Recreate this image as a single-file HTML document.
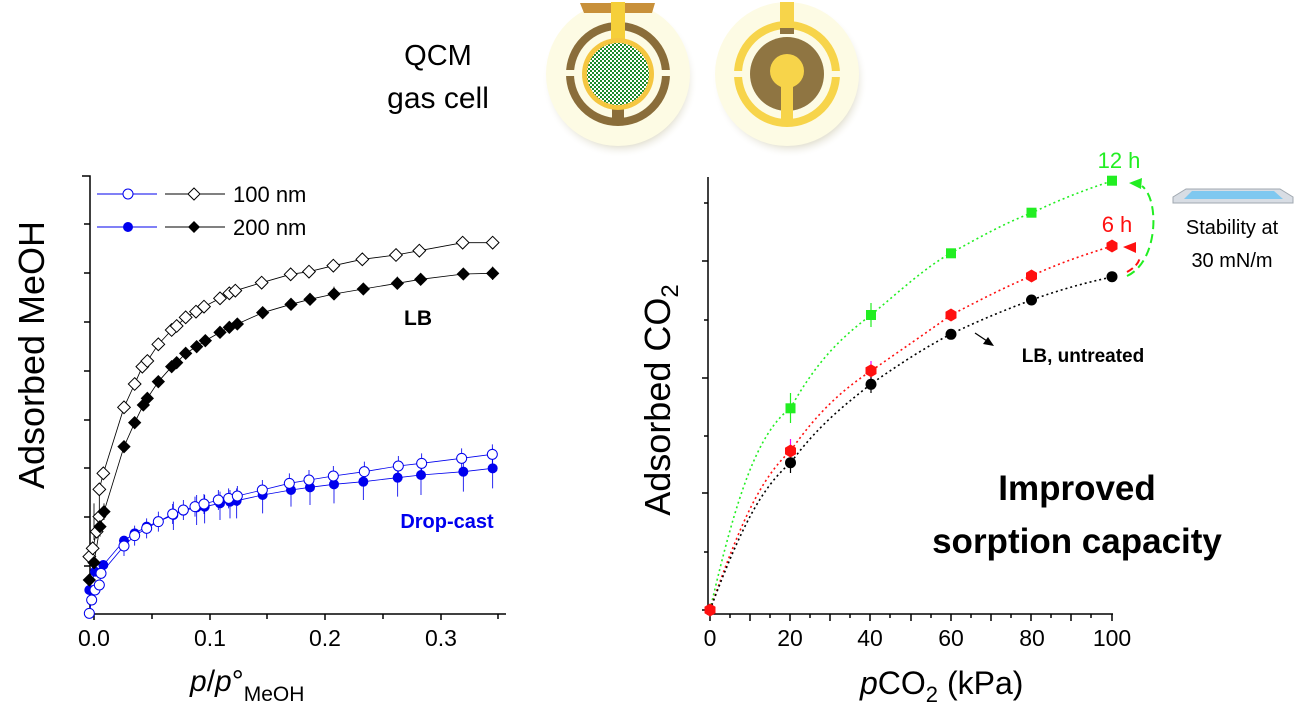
<!DOCTYPE html>
<html><head><meta charset="utf-8"><style>
html,body{margin:0;padding:0;background:#fff;}
svg{display:block;font-family:"Liberation Sans",sans-serif;}
</style></head><body>
<svg width="1298" height="716" viewBox="0 0 1298 716" xmlns="http://www.w3.org/2000/svg">
<defs>
<radialGradient id="shd" cx="50%" cy="50%" r="50%"><stop offset="0.85" stop-color="#e8e6da"/><stop offset="1" stop-color="#fff" stop-opacity="0"/></radialGradient>
<pattern id="chk" width="4" height="4" patternUnits="userSpaceOnUse"><rect width="4" height="4" fill="#fff"/><rect width="2" height="2" fill="#1a8a2a"/><rect x="2" y="2" width="2" height="2" fill="#1a8a2a"/></pattern>
<path id="dO" d="M0,-19 L19,0 L0,19 L-19,0Z" fill="#fff" stroke="#000" stroke-width="3"/>
<path id="dF" d="M0,-20 L20,0 L0,20 L-20,0Z" fill="#000"/>
<circle id="cO" r="15" fill="#fff" stroke="#0000ee" stroke-width="3"/>
<circle id="cF" r="15" fill="#0000ee"/>
<rect id="sq" x="-5" y="-5" width="10" height="10" fill="#22ee22"/>
<path id="hx" d="M0,-6.5 L5.5,-3.3 L5.5,3.3 L0,6.5 L-5.5,3.3 L-5.5,-3.3Z" fill="#ff1010"/>
<circle id="bk" r="5.5" fill="#000"/>
</defs>

<!-- QCM -->
<text x="438" y="65" font-size="29" text-anchor="middle">QCM</text>
<text x="438" y="108" font-size="30" text-anchor="middle">gas cell</text>
<circle cx="620" cy="80" r="78" fill="url(#shd)"/>
<circle cx="790" cy="80" r="78" fill="url(#shd)"/>
<circle cx="618" cy="74" r="72" fill="#fdfbe4"/>
<circle cx="787" cy="74" r="72" fill="#fdfbe4"/>
<path d="M580,3 L655,3 L652,13 L584,13Z" fill="#c8903a"/>
<circle cx="618" cy="74" r="48" fill="none" stroke="#8a6d3a" stroke-width="8"/>
<rect x="560" y="70" width="120" height="6" fill="#fdfbe4"/>
<rect x="611" y="2" width="14" height="38" fill="#f5cf3a"/>
<rect x="612" y="108" width="12" height="14" fill="#8a6d3a"/>
<circle cx="618" cy="74" r="36" fill="#f5c640"/>
<circle cx="618" cy="74" r="31" fill="url(#chk)"/>
<circle cx="787" cy="74" r="49" fill="none" stroke="#f7d44a" stroke-width="8"/>
<rect x="730" y="71" width="115" height="6" fill="#fdfbe4"/>
<rect x="780" y="2" width="14" height="28" fill="#f7d44a"/>
<circle cx="787" cy="74" r="37" fill="#8f7542"/>
<rect x="780" y="28" width="14" height="6" fill="#8f7542"/>
<circle cx="787" cy="71" r="17" fill="#f7d44a"/>
<rect x="781" y="74" width="12" height="50" fill="#f7d44a"/>

<!-- LEFT CHART -->
<g stroke="#000" stroke-width="1.5" fill="none">
<path d="M82,176 L90,176 L90,614 L506,614"/>
<path d="M84,224H90M84,273H90M84,322H90M84,371H90M84,420H90M84,468H90M84,517H90M84,566H90"/>
<path d="M94,614V620M152,614V619M210,614V620M267,614V619M325,614V620M383,614V619M441,614V620M498,614V619"/>
</g>
<g font-size="23" text-anchor="middle">
<text x="94" y="646">0.0</text><text x="210" y="646">0.1</text><text x="325" y="646">0.2</text><text x="441" y="646">0.3</text>
</g>
<text transform="translate(44,355) rotate(-90)" font-size="36" text-anchor="middle">Adsorbed MeOH</text>
<text x="190" y="691" font-size="30"><tspan font-style="italic">p</tspan>/<tspan font-style="italic">p</tspan>°<tspan font-size="21" dy="10">MeOH</tspan></text>

<g transform="translate(0,170) scale(0.33333)">
<g stroke="#0000ee" stroke-width="2.5">
<path d="M372,1098V1158M404,1067V1127M440,1045V1105M475,1025V1085M518,1002V1062M550,990V1050M585,980V1040M612,972V1032M655,960V1020M686,955V1015M712,948V1008M787,930V990M868,910V970M927,900V960M1000,888V948M1093,875V935M1195,858V918M1265,850V910M1385,835V895M1477,823V883"/>
<path d="M788,945V1030M873,925V1010M930,915V1005M1002,905V1000M1090,895V990M1193,880V980M1263,875V975M1390,860V965M1478,835V955M660,965V1050M690,960V1045M710,955V1045M590,975V1065M614,975V1060M520,995V1080"/>
</g>
<g stroke="#000" stroke-width="2.5"><path d="M1192,320V358M1262,310V345M1478,290V330M873,385V420M1002,350V390M312,1000V1050M300,1050V1100M282,1000V1110"/></g>
<polyline fill="none" stroke="#000" stroke-width="2.5" points="268,1160 278,1135 290,1085 298,1040 298,958 310,910 372,712 404,642 427,590 442,573 475,523 515,480 530,468 557,442 588,425 612,410 660,385 688,370 706,362 785,338 872,313 927,305 1000,287 1087,268 1188,255 1258,242 1388,218 1478,218"/>
<polyline fill="none" stroke="#000" stroke-width="2.5" points="268,1230 282,1178 300,1070 312,1025 372,830 404,758 430,705 442,685 475,635 515,590 530,578 557,550 590,530 616,512 660,487 688,472 712,462 788,428 873,403 930,388 1002,372 1090,357 1192,340 1262,328 1390,312 1478,310"/>
<polyline fill="none" stroke="#0000ee" stroke-width="2.5" points="268,1330 275,1290 285,1260 298,1245 303,1210 372,1128 404,1097 440,1075 475,1055 518,1032 550,1020 585,1010 612,1002 655,990 686,985 712,978 787,960 868,940 927,930 1000,918 1093,905 1195,888 1265,880 1385,865 1477,853"/>
<polyline fill="none" stroke="#0000ee" stroke-width="2.5" points="268,1260 285,1205 310,1185 372,1112 404,1090 440,1070 520,1035 550,1022 590,1012 614,1010 660,1000 690,995 710,992 788,975 873,960 930,952 1002,943 1090,935 1193,923 1263,915 1390,905 1478,895"/>
<g>
<use href="#cF" x="268" y="1260"/><use href="#cF" x="285" y="1205"/><use href="#cF" x="310" y="1185"/><use href="#cF" x="372" y="1112"/><use href="#cF" x="404" y="1090"/><use href="#cF" x="440" y="1070"/><use href="#cF" x="520" y="1035"/><use href="#cF" x="550" y="1022"/><use href="#cF" x="590" y="1012"/><use href="#cF" x="614" y="1010"/><use href="#cF" x="660" y="1000"/><use href="#cF" x="690" y="995"/><use href="#cF" x="710" y="992"/><use href="#cF" x="788" y="975"/><use href="#cF" x="873" y="960"/><use href="#cF" x="930" y="952"/><use href="#cF" x="1002" y="943"/><use href="#cF" x="1090" y="935"/><use href="#cF" x="1193" y="923"/><use href="#cF" x="1263" y="915"/><use href="#cF" x="1390" y="905"/><use href="#cF" x="1478" y="895"/>
<use href="#cO" x="268" y="1330"/><use href="#cO" x="275" y="1290"/><use href="#cO" x="285" y="1260"/><use href="#cO" x="298" y="1245"/><use href="#cO" x="303" y="1210"/><use href="#cO" x="372" y="1128"/><use href="#cO" x="404" y="1097"/><use href="#cO" x="440" y="1075"/><use href="#cO" x="475" y="1055"/><use href="#cO" x="518" y="1032"/><use href="#cO" x="550" y="1020"/><use href="#cO" x="585" y="1010"/><use href="#cO" x="612" y="1002"/><use href="#cO" x="655" y="990"/><use href="#cO" x="686" y="985"/><use href="#cO" x="712" y="978"/><use href="#cO" x="787" y="960"/><use href="#cO" x="868" y="940"/><use href="#cO" x="927" y="930"/><use href="#cO" x="1000" y="918"/><use href="#cO" x="1093" y="905"/><use href="#cO" x="1195" y="888"/><use href="#cO" x="1265" y="880"/><use href="#cO" x="1385" y="865"/><use href="#cO" x="1477" y="853"/>
<use href="#dO" x="268" y="1160"/><use href="#dO" x="278" y="1135"/><use href="#dO" x="290" y="1085"/><use href="#dO" x="298" y="1040"/><use href="#dO" x="298" y="958"/><use href="#dO" x="310" y="910"/><use href="#dO" x="372" y="712"/><use href="#dO" x="404" y="642"/><use href="#dO" x="427" y="590"/><use href="#dO" x="442" y="573"/><use href="#dO" x="475" y="523"/><use href="#dO" x="515" y="480"/><use href="#dO" x="530" y="468"/><use href="#dO" x="557" y="442"/><use href="#dO" x="588" y="425"/><use href="#dO" x="612" y="410"/><use href="#dO" x="660" y="385"/><use href="#dO" x="688" y="370"/><use href="#dO" x="706" y="362"/><use href="#dO" x="785" y="338"/><use href="#dO" x="872" y="313"/><use href="#dO" x="927" y="305"/><use href="#dO" x="1000" y="287"/><use href="#dO" x="1087" y="268"/><use href="#dO" x="1188" y="255"/><use href="#dO" x="1258" y="242"/><use href="#dO" x="1388" y="218"/><use href="#dO" x="1478" y="218"/>
<use href="#dF" x="268" y="1230"/><use href="#dF" x="282" y="1178"/><use href="#dF" x="300" y="1070"/><use href="#dF" x="312" y="1025"/><use href="#dF" x="372" y="830"/><use href="#dF" x="404" y="758"/><use href="#dF" x="430" y="705"/><use href="#dF" x="442" y="685"/><use href="#dF" x="475" y="635"/><use href="#dF" x="515" y="590"/><use href="#dF" x="530" y="578"/><use href="#dF" x="557" y="550"/><use href="#dF" x="590" y="530"/><use href="#dF" x="616" y="512"/><use href="#dF" x="660" y="487"/><use href="#dF" x="688" y="472"/><use href="#dF" x="712" y="462"/><use href="#dF" x="788" y="428"/><use href="#dF" x="873" y="403"/><use href="#dF" x="930" y="388"/><use href="#dF" x="1002" y="372"/><use href="#dF" x="1090" y="357"/><use href="#dF" x="1192" y="340"/><use href="#dF" x="1262" y="328"/><use href="#dF" x="1390" y="312"/><use href="#dF" x="1478" y="310"/>
</g>
</g>
<!-- legend -->
<g stroke-width="1">
<path d="M97,194H157M97,227H157" stroke="#0000ee"/>
<path d="M165,194H225M165,227H225" stroke="#000"/>
</g>
<circle cx="128" cy="194" r="5" fill="#fff" stroke="#0000ee"/>
<circle cx="128" cy="227" r="5" fill="#0000ee"/>
<path d="M194,188L200,194L194,200L188,194Z" fill="#fff" stroke="#000"/>
<path d="M194,221L200,227L194,233L188,227Z" fill="#000"/>
<text x="233" y="202" font-size="22">100 nm</text>
<text x="233" y="235" font-size="22">200 nm</text>
<text x="418" y="325" font-size="21" font-weight="bold" text-anchor="middle">LB</text>
<text x="447" y="528" font-size="20" font-weight="bold" fill="#0000ee" text-anchor="middle">Drop-cast</text>

<!-- RIGHT CHART -->
<g stroke="#000" stroke-width="1.5" fill="none">
<path d="M708,177V614H1113"/>
<path d="M704,203H708M702,261H708M704,320H708M702,378H708M704,436H708M702,493H708M704,552H708M702,610H708"/>
<path d="M710,614V621M730,614V618M750,614V621M770,614V618M790,614V621M810,614V618M830,614V621M850,614V618M870,614V621M890,614V618M911,614V621M931,614V618M951,614V621M971,614V618M991,614V621M1011,614V618M1031,614V621M1051,614V618M1071,614V621M1091,614V618M1112,614V621"/>
</g>
<g font-size="23" text-anchor="middle">
<text x="710" y="646">0</text><text x="790" y="646">20</text><text x="870" y="646">40</text><text x="951" y="646">60</text><text x="1032" y="646">80</text><text x="1112" y="646">100</text>
</g>
<text transform="translate(670,400) rotate(-90)" font-size="36" text-anchor="middle">Adsorbed CO<tspan font-size="24" dy="8">2</tspan></text>
<text x="860" y="694" font-size="32"><tspan font-style="italic">p</tspan>CO<tspan font-size="22" dy="8">2</tspan><tspan dy="-8"> (kPa)</tspan></text>

<path d="M790.5,393V423M871,303V327" stroke="#22ee22" stroke-width="1.2"/>
<path d="M790.5,439V460M871,361V381" stroke="#ff00ff" stroke-width="1.2"/>
<path d="M790.5,453V473M871,377V393" stroke="#000" stroke-width="1.2"/>
<g fill="none" stroke-width="1.6" stroke-dasharray="2,3">
<path d="M710,610 C737,493 758,433 790.5,408 C816,363 838,340 871,315 C901,290 926,267 951,253 C980,237 1005,223 1031.5,213 C1059,200 1084,190 1112,181" stroke="#22ee22"/>
<path d="M710,610 C741,520 762,477 790.5,451 C817,413 842,390 871,371 C901,350 926,333 951,315 C980,300 1005,287 1031.5,276 C1059,263 1084,255 1112,246" stroke="#ff1010"/>
<path d="M710,610 C741,527 762,487 790.5,463 C817,427 842,407 871,384 C901,363 926,347 951,334 C980,320 1005,310 1031.5,300 C1059,290 1084,283 1112,277" stroke="#000"/>
</g>
<path d="M1127,276 C1158,262 1160,200 1142,186" fill="none" stroke="#22ee22" stroke-width="2" stroke-dasharray="9,5"/>
<path d="M1129,183 L1142,178 L1141,189Z" fill="#22ee22"/>
<path d="M1127,272 C1136,267 1139,262 1140,257" fill="none" stroke="#ff1010" stroke-width="2" stroke-dasharray="7,4"/>
<path d="M1123,247 L1136,242 L1136,253Z" fill="#ff1010"/>
<path d="M975,333 L990,343" stroke="#000" stroke-width="1.2"/><path d="M994,346 L983,344 L988,337Z" fill="#000"/>
<use href="#bk" x="710" y="610"/><use href="#bk" x="790.5" y="462.7"/><use href="#bk" x="871" y="384.3"/><use href="#bk" x="951" y="334.3"/><use href="#bk" x="1031.5" y="300"/><use href="#bk" x="1112" y="276.7"/>
<use href="#hx" x="790.5" y="451"/><use href="#hx" x="871" y="370.7"/><use href="#hx" x="951" y="315"/><use href="#hx" x="1031.5" y="276"/><use href="#hx" x="1112" y="246"/>
<use href="#sq" x="790.5" y="408.3"/><use href="#sq" x="871" y="315"/><use href="#sq" x="951" y="253.3"/><use href="#sq" x="1031.5" y="212.7"/><use href="#sq" x="1112" y="180.7"/>
<use href="#hx" x="710" y="610"/>
<text x="1119" y="168" font-size="22" fill="#22ee22" text-anchor="middle">12 h</text>
<text x="1117" y="232" font-size="22" fill="#ff1010" text-anchor="middle">6 h</text>
<text x="1083" y="362" font-size="19" font-weight="bold" text-anchor="middle">LB, untreated</text>
<text x="1077" y="500" font-size="35" font-weight="bold" text-anchor="middle">Improved</text>
<text x="1077" y="553" font-size="35" font-weight="bold" text-anchor="middle">sorption capacity</text>
<path d="M1173,203 L1293,203 L1293,197 L1280,189 L1186,189 L1173,197Z" fill="#d8dde4" stroke="#a0a8b0"/>
<path d="M1184,199 L1283,199 L1274,191 L1192,191Z" fill="#7fc8f0"/>
<text x="1232" y="234" font-size="20" text-anchor="middle">Stability at</text>
<text x="1232" y="267" font-size="20" text-anchor="middle">30 mN/m</text>
</svg>
</body></html>
